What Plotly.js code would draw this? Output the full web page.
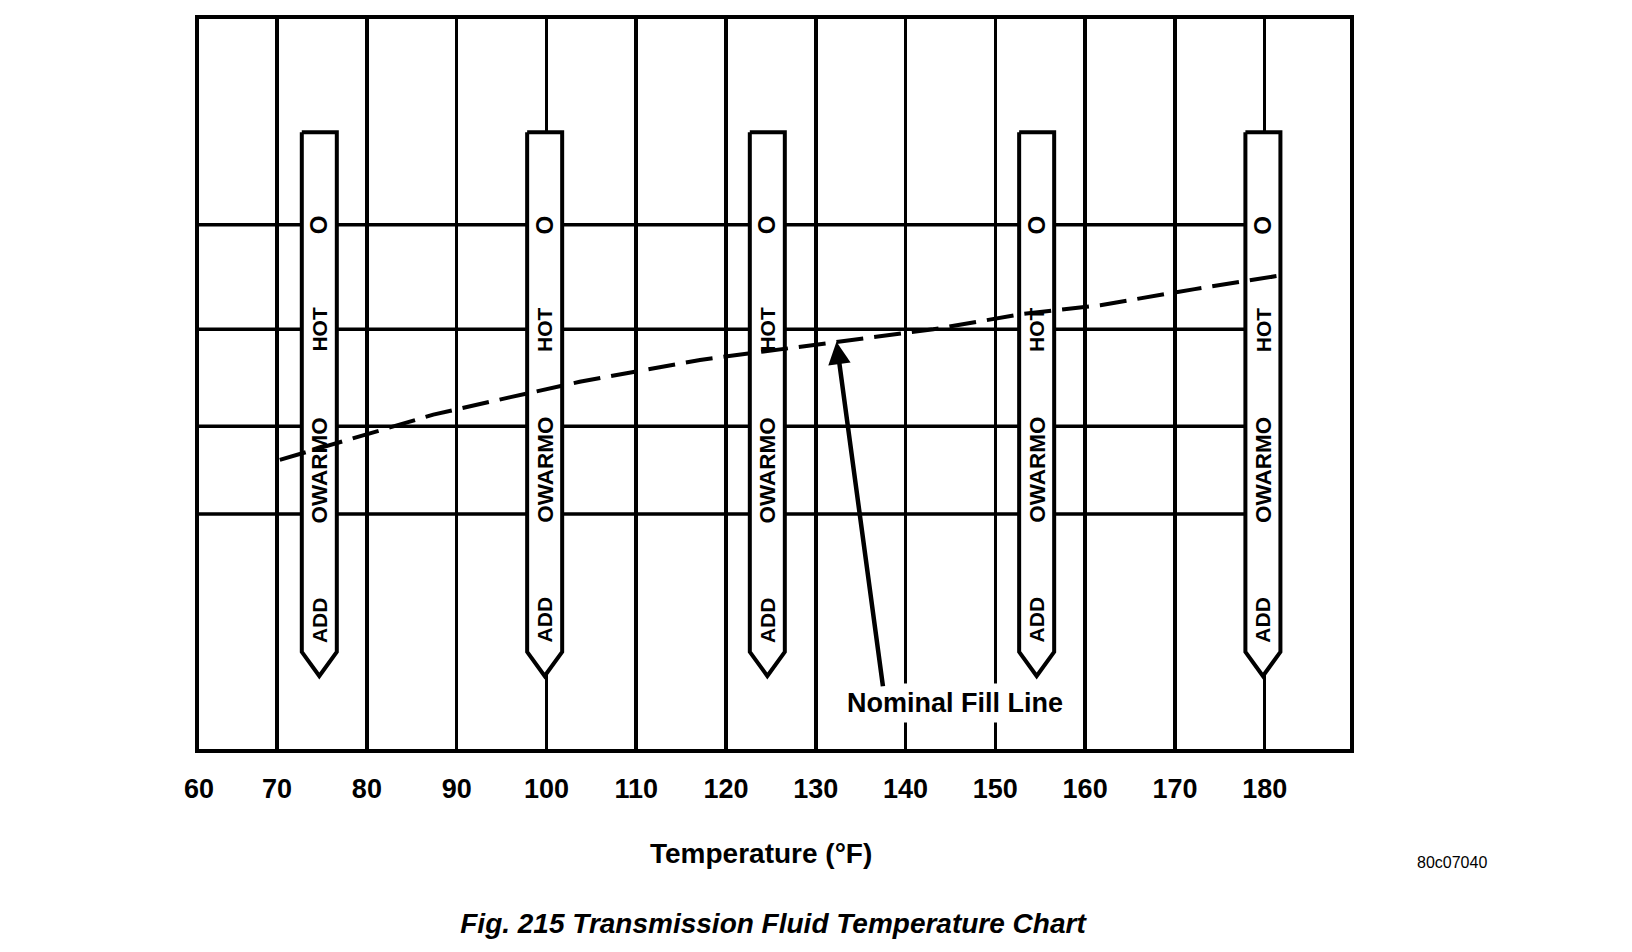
<!DOCTYPE html>
<html><head><meta charset="utf-8">
<script src="https://cdn.plot.ly/plotly-3.0.1.min.js"></script>
<style>html,body{margin:0;padding:0;background:#fff}#chart{width:1632px;height:952px}</style>
</head><body><div id="chart"></div>
<script>
// ---- data ----
const tickTemps  = [61.3, 70, 80, 90, 100, 110, 120, 130, 140, 150, 160, 170, 180];
const tickLabels = ["60","70","80","90","100","110","120","130","140","150","160","170","180"];
const dipstickTemps = [74.7, 99.8, 124.6, 154.6, 179.8];
const markLevels = [71.8, 57.5, 44.2, 32.2];          // full-hot, hot, warm high, warm low lines
const labelTexts  = ["O", "HOT", "OWARMO", "ADD"];
const labelSizes  = [24, 21, 22.5, 21];
const labelLevels = [71.8, 57.5, 38.2, 17.7];
const fillTemps  = [70.3, 79.2, 87.4, 96.0, 103.7, 117.1, 132.7, 143.1, 153.1, 161.7, 172.2, 181.9];
const fillLevels = [39.6, 42.9, 45.8, 48.2, 50.3, 53.3, 55.9, 57.5, 59.6, 60.8, 63.0, 64.9];
const arrowTip = [132.3, 55.8];
const arrowTail = [137.5, 8.4];

// ---- geometry / style ----
const X0 = 61.3, X1 = 189.5;
const HW = 1.95, TOP = 84.5, SHOULDER = 13.3, TIP = 10.0;
const FONT = "Liberation Sans, Arial, Helvetica, sans-serif";

const traces = [];
markLevels.forEach(lv => {
  traces.push({x:[X0, 180], y:[lv, lv], mode:'lines', line:{color:'#000', width:3.5}, hoverinfo:'skip', showlegend:false});
});
dipstickTemps.forEach(t => {
  traces.push({
    x:[t-HW, t+HW, t+HW, t, t-HW, t-HW],
    y:[TOP, TOP, SHOULDER, TIP, SHOULDER, TOP],
    mode:'lines', fill:'toself', fillcolor:'#fff',
    line:{color:'#000', width:4}, hoverinfo:'skip', showlegend:false
  });
});
traces.push({x:fillTemps, y:fillLevels, mode:'lines', line:{color:'#000', width:4, dash:'27px,11px'}, hoverinfo:'skip', showlegend:false});

const annotations = [];
dipstickTemps.forEach(t => {
  labelTexts.forEach((txt, i) => {
    annotations.push({x:t, y:labelLevels[i], xref:'x', yref:'y', text:txt, textangle:-90, showarrow:false,
      font:{family:FONT, size:labelSizes[i], weight:'bold', color:'#000'}});
  });
});
annotations.push({x:145.5, y:6.3, xref:'x', yref:'y', text:'Nominal Fill Line', showarrow:false,
  bgcolor:'#fff', borderpad:4,
  font:{family:FONT, size:27, weight:'bold', color:'#000'}});
annotations.push({x:arrowTip[0], y:arrowTip[1], ax:arrowTail[0], ay:arrowTail[1], axref:'x', ayref:'y', xref:'x', yref:'y',
  text:'', showarrow:true, arrowhead:2, arrowsize:1.0, arrowwidth:4.5, arrowcolor:'#000', standoff:0, startstandoff:0});
annotations.push({x:(761-199)/1151, y:(749-854)/730, xref:'paper', yref:'paper', xanchor:'center', yanchor:'middle',
  text:'Temperature (°F)', showarrow:false,
  font:{family:FONT, size:28, weight:'bold', color:'#000'}});
annotations.push({x:(1452-199)/1151, y:(749-862)/730, xref:'paper', yref:'paper', xanchor:'center', yanchor:'middle',
  text:'80c07040', showarrow:false,
  font:{family:FONT, size:16, color:'#000'}});

const layout = {
  width:1632, height:952,
  margin:{l:199, r:282, t:19, b:203, pad:0},
  paper_bgcolor:'#fff', plot_bgcolor:'#fff',
  showlegend:false, hovermode:false,
  title:{text:'Fig. 215 Transmission Fluid Temperature Chart', x:773/1632, xanchor:'center', y:1-923/952, yanchor:'middle',
    font:{family:FONT, size:28, weight:'bold', style:'italic', color:'#000'}},
  xaxis:{range:[X0, X1], tickmode:'array', tickvals:tickTemps, ticktext:tickLabels, ticks:'', ticklabelstandoff:13,
    showgrid:true, gridcolor:'#000', gridwidth:3.5, zeroline:false,
    showline:true, mirror:true, linecolor:'#000', linewidth:4,
    tickfont:{family:FONT, size:27, weight:'bold', color:'#000'},
    automargin:false, fixedrange:true},
  yaxis:{range:[0,100], showticklabels:false, ticks:'', showgrid:false, zeroline:false,
    showline:true, mirror:true, linecolor:'#000', linewidth:4, automargin:false, fixedrange:true},
  annotations:annotations
};
Plotly.newPlot('chart', traces, layout, {displayModeBar:false, staticPlot:true});
</script></body></html>
